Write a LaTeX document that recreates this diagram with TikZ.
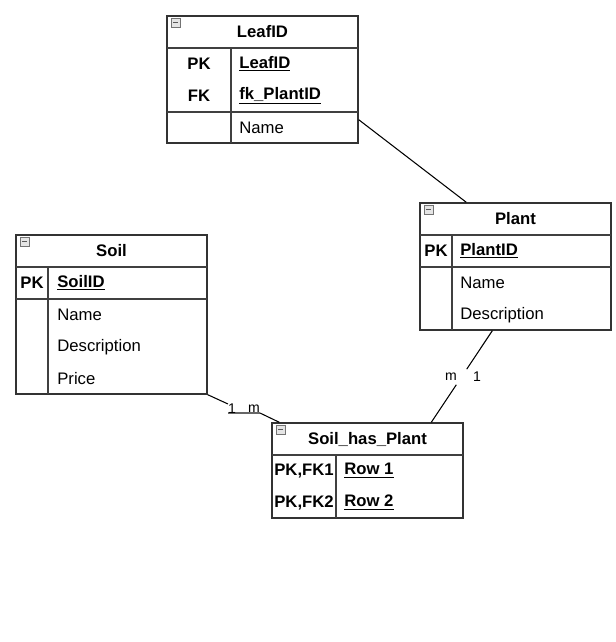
\documentclass[tikz,border=0pt]{standalone}
\usepackage{fontspec}
\setmainfont{Liberation Sans}
\usetikzlibrary{calc}
\tikzset{
  tbl/.style={draw=black!80, line width=0.8pt, inner sep=0pt, minimum width=3.82cm},
  sep/.style={draw=black!75, line width=0.8pt},
  ttl/.style={font=\fontsize{9.5}{11}\selectfont\bfseries, inner sep=0pt},
  key/.style={font=\fontsize{9.5}{11}\selectfont\bfseries, inner sep=0pt},
  fld/.style={font=\fontsize{9.5}{11}\selectfont, inner sep=0pt, anchor=west},
  card/.style={font=\fontsize{8}{9}\selectfont, inner sep=0pt},
  link/.style={draw=black, line width=0.6pt},
  tick/.style={draw=black!60, line width=0.6pt},
  minus/.style={draw=black!55, fill=black!10, line width=0.5pt}
}
\newcommand{\minusbox}[2]{\draw[minus] (#1+4,#2+2) rectangle (#1+13,#2+11);
  \draw[black!65, line width=0.8pt] (#1+6,#2+6.5) -- (#1+11,#2+6.5);}
\begin{document}
\begin{tikzpicture}[x=0.02cm, y=-0.02cm]
    \useasboundingbox (0,0) rectangle (615,642);

    % tables
    \node[tbl, minimum height=2.54cm] (leaf) at (262.5, 79.5) {};
    \node[tbl, minimum height=3.18cm] (soil) at (111.5, 314.5) {};
    \node[tbl, minimum height=2.54cm] (plant) at (515.5, 266.5) {};
    \node[tbl, minimum height=1.9cm] (shp) at (367.5, 470.5) {};

    % LeafID
    \draw[sep] (167, 48) -- (358, 48);
    \draw[sep] (167, 112) -- (358, 112);
    \draw[sep] (231, 48) -- (231, 143);
    \minusbox{167}{16}
    \node[ttl] (leafT) at (262.5, 32) {LeafID};
    \node[key] (leafK1) at (199, 64) {PK};
    \node[key] (leafK2) at (199, 96) {FK};
    \node[fld, font=\fontsize{9.5}{11}\selectfont\bfseries] (leafF1) at (239, 64) {\underline{LeafID}};
    \node[fld, font=\fontsize{9.5}{11}\selectfont\bfseries] (leafF2) at (239, 96) {\underline{fk\_PlantID}};
    \node[fld] (leafF3) at (239, 128) {Name};

    % Soil
    \draw[sep] (16, 267) -- (207, 267);
    \draw[sep] (16, 299) -- (207, 299);
    \draw[sep] (48, 267) -- (48, 394);
    \minusbox{16}{235}
    \node[ttl] (soilT) at (111.5, 251) {Soil};
    \node[key] (soilK1) at (32, 283) {PK};
    \node[fld, font=\fontsize{9.5}{11}\selectfont\bfseries] (soilF1) at (57, 283) {\underline{SoilID}};
    \node[fld] (soilF2) at (57, 315) {Name};
    \node[fld] (soilF3) at (57, 347) {Description};
    \node[fld] (soilF4) at (57, 379) {Price};

    % Plant
    \draw[sep] (420, 235) -- (611, 235);
    \draw[sep] (420, 267) -- (611, 267);
    \draw[sep] (452, 235) -- (452, 330);
    \minusbox{420}{203}
    \node[ttl] (plantT) at (515.5, 219) {Plant};
    \node[key] (plantK1) at (436, 251) {PK};
    \node[fld, font=\fontsize{9.5}{11}\selectfont\bfseries] (plantF1) at (460, 251) {\underline{PlantID}};
    \node[fld] (plantF2) at (460, 283) {Name};
    \node[fld] (plantF3) at (460, 315) {Description};

    % Soil_has_Plant
    \draw[sep] (272, 455) -- (463, 455);
    \draw[sep] (336, 455) -- (336, 518);
    \minusbox{272}{423}
    \node[ttl] (shpT) at (367.5, 439) {Soil\_has\_Plant};
    \node[key] (shpK1) at (304, 471) {PK,FK1};
    \node[key] (shpK2) at (304, 503) {PK,FK2};
    \node[fld, font=\fontsize{9.5}{11}\selectfont\bfseries] (shpF1) at (344, 471) {\underline{Row 1}};
    \node[fld, font=\fontsize{9.5}{11}\selectfont\bfseries] (shpF2) at (344, 503) {\underline{Row 2}};

    % relations
    \draw[link] ($(leaf.south east)+(0,-24)$) -- ($(plant.north west)+(47,0)$);

    \coordinate (s1) at (228, 404);
    \coordinate (s2) at (228, 413);
    \coordinate (s3) at (260, 413);
    \draw[link] (soil.south east) -- (s1);
    \draw[tick] (s2) -- (s3);
    \draw[link] (s3) -- ($(shp.north west)+(8,0)$);
    \node[card] (c1) at (232, 409) {1};
    \node[card] (c2) at (254, 409) {m};

    \path ($(plant.south west)+(73,0)$) coordinate (p1) -- ($(shp.north west)+(160,0)$) coordinate (p2)
      coordinate[pos=0.42] (g1) coordinate[pos=0.59] (g2);
    \draw[link] (p1) -- (g1);
    \draw[link] (g2) -- (p2);
    \node[card] (c3) at (451, 377) {m};
    \node[card] (c4) at (477, 377) {1};

\end{tikzpicture}
\end{document}
